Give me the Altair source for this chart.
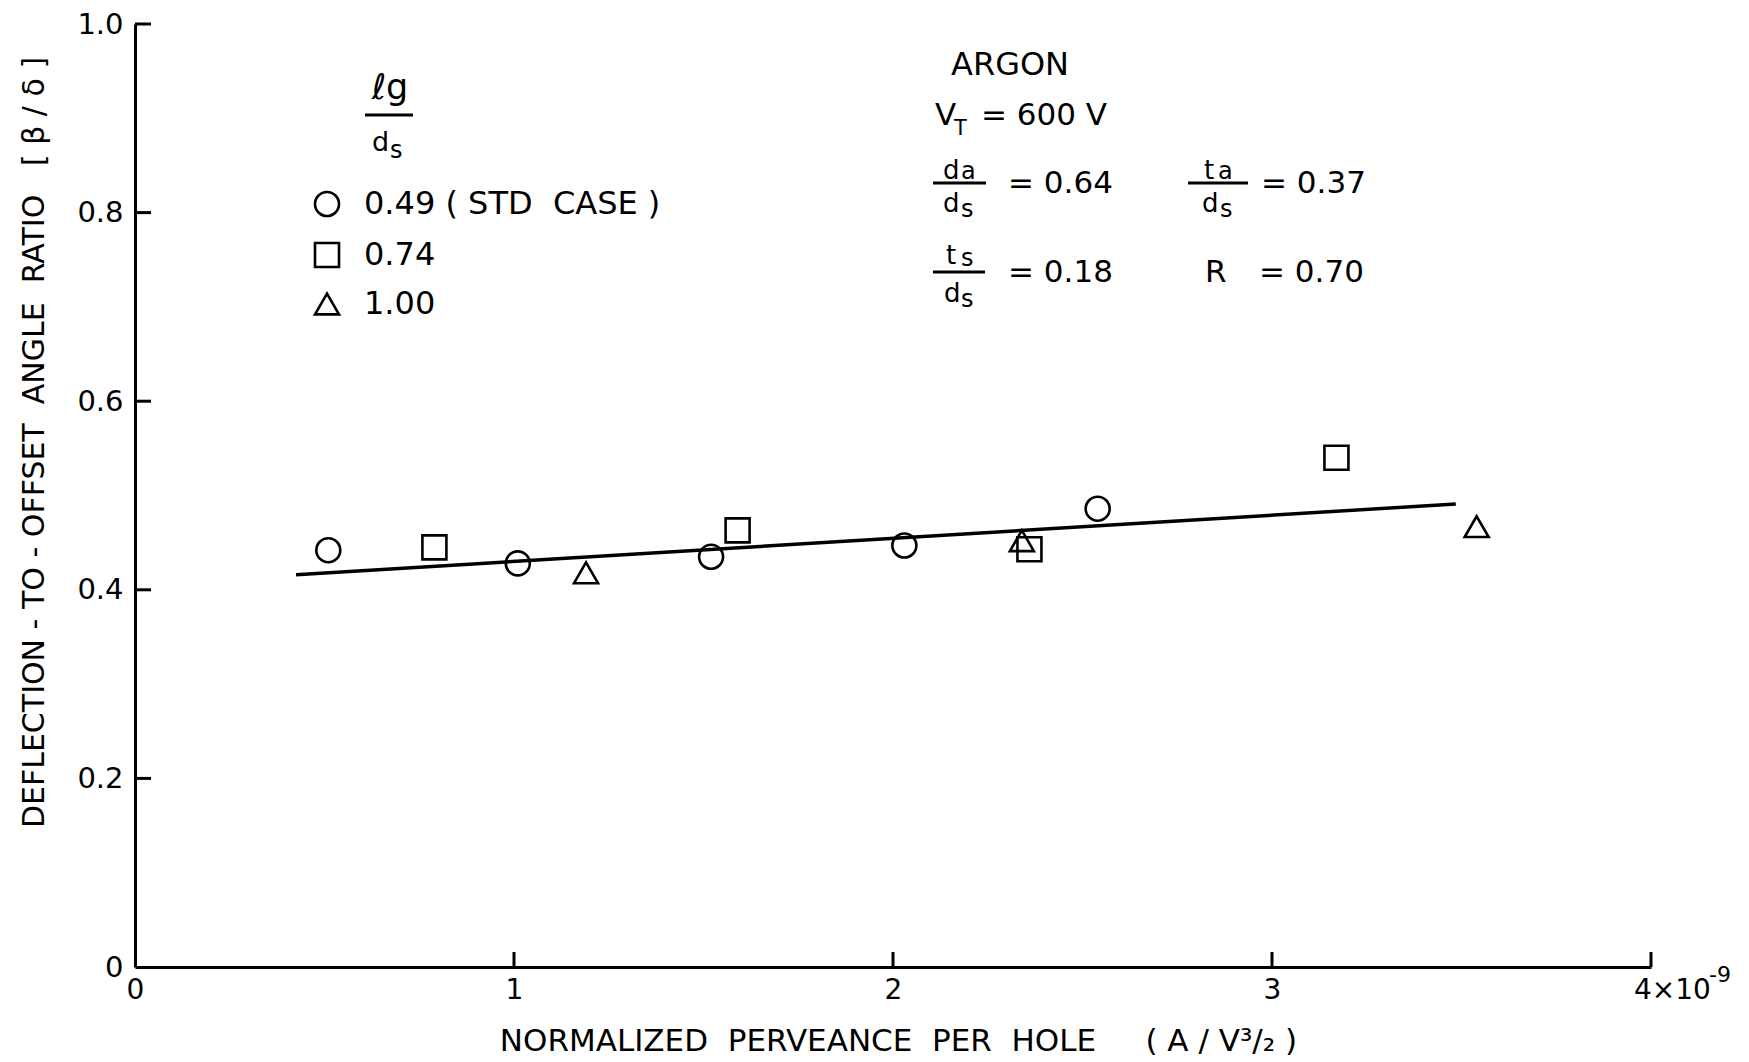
import altair as alt
import pandas as pd

NB = "\u00a0"  # non-breaking space, keeps wide gaps in SVG text

# Beamlet deflection-to-offset angle ratio vs. normalized perveance per hole,
# grouped by grid separation ratio lg/ds
series = [f"0.49{NB}({NB}STD{NB}{NB}CASE{NB})", "0.74", "1.00"]
circle_x = [0.51, 1.01, 1.52, 2.03, 2.54]
circle_y = [0.442, 0.428, 0.435, 0.447, 0.486]
square_x = [0.79, 1.59, 2.36, 3.17]
square_y = [0.445, 0.463, 0.443, 0.540]
triangle_x = [1.19, 2.34, 3.54]
triangle_y = [0.418, 0.452, 0.467]

# straight-line fit through all points
fit_x = [0.425, 3.485]
fit_y = [0.416, 0.491]

x_ticks = [0, 1, 2, 3, 4]
y_ticks = [0, 0.2, 0.4, 0.6, 0.8, 1.0]

FONT = "DejaVu Sans"
W, H = 1516, 943

pts = pd.DataFrame({
    "x": circle_x + square_x + triangle_x,
    "y": circle_y + square_y + triangle_y,
    "series": [series[0]] * len(circle_x)
    + [series[1]] * len(square_x)
    + [series[2]] * len(triangle_x),
})
fit = pd.DataFrame({"x": fit_x, "y": fit_y})
anchor = pd.DataFrame({"k": [0]})

xs = alt.Scale(domain=[0, 4], nice=False, zero=False)
ys = alt.Scale(domain=[0, 1], nice=False, zero=False)

x_title = (f"NORMALIZED{NB}{NB}PERVEANCE{NB}{NB}PER{NB}{NB}HOLE"
           f"{NB}{NB}{NB}{NB}{NB}({NB}A{NB}/{NB}V³/₂{NB})")
y_title = (f"DEFLECTION{NB}-{NB}TO{NB}-{NB}OFFSET{NB}{NB}ANGLE{NB}{NB}RATIO"
           f"{NB}{NB}{NB}[{NB}β{NB}/{NB}δ{NB}]")

x_axis = alt.Axis(
    title=x_title,
    values=x_ticks,
    labelExpr="datum.value == 4 ? '' : format(datum.value, 'd')",
    ticks=False, grid=False,
    domainColor="black", domainWidth=3,
    labelFont=FONT, labelFontSize=28, labelColor="black", labelPadding=9,
    labelFlush=False,
    titleFont=FONT, titleFontSize=31, titleFontWeight="normal", titleColor="black",
    titleX=763, titleY=74, titleAlign="center", titleBaseline="middle",
)
y_axis = alt.Axis(
    title=y_title,
    values=y_ticks,
    labelExpr="datum.value == 0 ? '0' : format(datum.value, '.1f')",
    ticks=False, grid=False,
    domainColor="black", domainWidth=3,
    labelFont=FONT, labelFontSize=29, labelColor="black", labelPadding=12,
    labelFlush=False,
    titleFont=FONT, titleFontSize=30, titleFontWeight="normal", titleColor="black",
    titleAngle=270, titleX=-101, titleY=418, titleAlign="center", titleBaseline="middle",
)


def X(field):
    return alt.X(field, type="quantitative", scale=xs, axis=x_axis)


def Y(field):
    return alt.Y(field, type="quantitative", scale=ys, axis=y_axis)


points = alt.Chart(pts).mark_point(
    filled=False, size=576, strokeWidth=2.6, color="black", opacity=1
).encode(
    x=X("x"),
    y=Y("y"),
    shape=alt.Shape(
        "series:N",
        scale=alt.Scale(domain=series, range=["circle", "square", "triangle-up"]),
        legend=alt.Legend(
            title=None, orient="none", legendX=176, legendY=164,
            padding=0, rowPadding=15, labelOffset=21, labelLimit=700,
            labelFont=FONT, labelFontSize=32, labelColor="black",
            symbolSize=576, symbolStrokeWidth=2.6, symbolStrokeColor="black",
            symbolFillColor="transparent",
        ),
    ),
)

fit_line = alt.Chart(fit).mark_line(color="black", strokeWidth=3.5).encode(
    x=X("x"), y=Y("y")
)

# inward-pointing tick marks
ytick_rules = alt.Chart(pd.DataFrame({"v": y_ticks[1:]})).mark_rule(
    color="black", strokeWidth=3
).encode(y=Y("v"), x=alt.value(0), x2=alt.value(16))
xtick_rules = alt.Chart(pd.DataFrame({"v": x_ticks[1:]})).mark_rule(
    color="black", strokeWidth=3
).encode(x=X("v"), y=alt.value(H), y2=alt.value(H - 15))

# end label of the x axis with its exponent
last_tick = pd.DataFrame({"v": [x_ticks[-1]]})
x_end_label = alt.Chart(last_tick).mark_text(
    text="4×10", align="left", baseline="middle", dx=-17,
    font=FONT, fontSize=28, color="black",
).encode(x=X("v"), y=alt.value(H + 24))
x_end_exp = alt.Chart(last_tick).mark_text(
    text="-9", align="left", baseline="middle", dx=58,
    font=FONT, fontSize=22, color="black",
).encode(x=X("v"), y=alt.value(H + 8))


def note(text, x, y, size=31, align="left", baseline="alphabetic"):
    return alt.Chart(anchor).mark_text(
        text=text, align=align, baseline=baseline,
        font=FONT, fontSize=size, color="black",
    ).encode(x=alt.value(x), y=alt.value(y))


def bar(x1, x2, y):
    return alt.Chart(anchor).mark_rule(color="black", strokeWidth=3).encode(
        x=alt.value(x1), x2=alt.value(x2), y=alt.value(y)
    )


notes = [
    # legend heading lg / ds
    note("ℓg", 255, 75, size=35, align="center"),
    bar(230, 278, 91),
    note("d", 237, 127, size=27),
    note("s", 255, 134, size=24),
    # operating conditions
    note("ARGON", 816, 51, size=32),
    note("V", 800, 101),
    note("T", 819, 111, size=21),
    note(f"={NB}600{NB}V", 846, 101),
    # da / ds
    note("d", 808, 155, size=26),
    note("a", 826, 155, size=24),
    bar(798, 851, 159),
    note("d", 808, 188, size=26),
    note("s", 826, 193, size=24),
    note("= 0.64", 873, 169),
    # ta / ds
    note("t", 1069, 155, size=26),
    note("a", 1083, 155, size=24),
    bar(1053, 1113, 159),
    note("d", 1067, 188, size=26),
    note("s", 1085, 193, size=24),
    note("= 0.37", 1126, 169),
    # ts / ds
    note("t", 811, 240, size=26),
    note("s", 826, 242, size=24),
    bar(798, 850, 248),
    note("d", 809, 278, size=26),
    note("s", 826, 283, size=24),
    note("= 0.18", 873, 258),
    # R
    note("R", 1070, 258),
    note("= 0.70", 1124, 258),
]

chart = alt.layer(
    fit_line, points, ytick_rules, xtick_rules, x_end_label, x_end_exp, *notes
).properties(
    width=W, height=H,
    autosize=alt.AutoSizeParams(type="none"),
    padding={"left": 135, "top": 24, "right": 98, "bottom": 95},
    background="white",
).configure_view(stroke=None)

chart.save("out.html", embed_options={"renderer": "svg", "actions": False})
